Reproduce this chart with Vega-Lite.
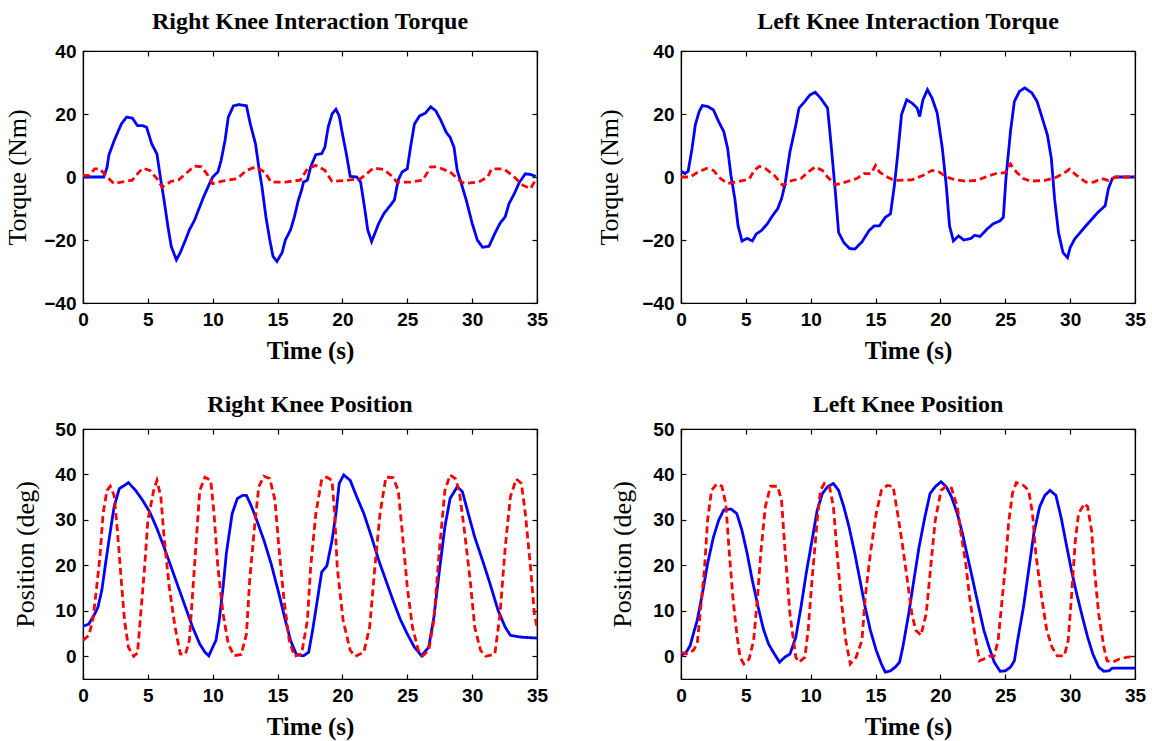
{
  "$schema": "https://vega.github.io/schema/vega-lite/v6.json",
  "autosize": {"type": "none"},
  "padding": {"left": 83, "top": 51, "right": 1069, "bottom": 690},
  "background": "white",
  "bounds": "flush",
  "columns": 2,
  "spacing": {"row": 126, "column": 144},
  "config": {
    "view": {"stroke": "black", "strokeWidth": 1.2},
    "axis": {
      "grid": false, "domainColor": "black", "domainWidth": 1.2, "tickColor": "black", "tickWidth": 1.2,
      "tickSize": -5, "labelPadding": 12, "labelFont": "Liberation Sans", "labelFontWeight": "bold",
      "labelFontSize": 19, "labelColor": "black", "labelFlush": false, "labelOverlap": false,
      "titleFont": "Liberation Serif", "titleFontSize": 26, "titleFontWeight": "normal", "titleColor": "black"
    },
    "title": {"font": "Liberation Serif", "fontSize": 24, "fontWeight": "bold", "color": "black", "anchor": "middle"}
  },
  "datasets": {
    "rkt": [
      {"s":"A","t":0,"v":0},{"s":"A","t":1.6,"v":0},{"s":"A","t":1.85,"v":3},{"s":"A","t":2.0,"v":7},{"s":"A","t":2.4,"v":11.5},{"s":"A","t":2.95,"v":16.8},{"s":"A","t":3.35,"v":19},{"s":"A","t":3.8,"v":18.7},{"s":"A","t":4.2,"v":16.3},{"s":"A","t":4.6,"v":16.3},{"s":"A","t":4.9,"v":15.8},{"s":"A","t":5.3,"v":10.5},{"s":"A","t":5.7,"v":7.3},{"s":"A","t":6.0,"v":-1},{"s":"A","t":6.25,"v":-7.4},{"s":"A","t":6.55,"v":-15.8},{"s":"A","t":6.8,"v":-22},{"s":"A","t":7.2,"v":-26.3},{"s":"A","t":7.5,"v":-24},{"s":"A","t":7.9,"v":-20},{"s":"A","t":8.2,"v":-16.8},{"s":"A","t":8.6,"v":-13.7},{"s":"A","t":8.9,"v":-10.5},{"s":"A","t":9.3,"v":-6.3},{"s":"A","t":9.7,"v":-2.6},{"s":"A","t":10.0,"v":0},{"s":"A","t":10.4,"v":1.6},{"s":"A","t":10.65,"v":5.3},{"s":"A","t":10.95,"v":11.6},{"s":"A","t":11.2,"v":19},{"s":"A","t":11.6,"v":22.6},{"s":"A","t":12.0,"v":23},{"s":"A","t":12.6,"v":22.6},{"s":"A","t":12.9,"v":16.8},{"s":"A","t":13.3,"v":10.5},{"s":"A","t":13.55,"v":3.2},{"s":"A","t":13.8,"v":-3.2},{"s":"A","t":14.1,"v":-12.6},{"s":"A","t":14.4,"v":-20},{"s":"A","t":14.65,"v":-25.2},{"s":"A","t":14.95,"v":-26.8},{"s":"A","t":15.35,"v":-24},{"s":"A","t":15.6,"v":-20},{"s":"A","t":16.0,"v":-16.8},{"s":"A","t":16.3,"v":-12.6},{"s":"A","t":16.6,"v":-7.4},{"s":"A","t":16.85,"v":-4.2},{"s":"A","t":17.0,"v":-1.6},{"s":"A","t":17.3,"v":-1},{"s":"A","t":17.55,"v":3.2},{"s":"A","t":17.95,"v":7.1},{"s":"A","t":18.4,"v":7.4},{"s":"A","t":18.65,"v":9.5},{"s":"A","t":18.9,"v":15.8},{"s":"A","t":19.2,"v":20},{"s":"A","t":19.5,"v":21.5},{"s":"A","t":19.75,"v":19.4},{"s":"A","t":20.0,"v":13.7},{"s":"A","t":20.3,"v":7.4},{"s":"A","t":20.6,"v":0.2},{"s":"A","t":21.1,"v":0},{"s":"A","t":21.4,"v":-1.6},{"s":"A","t":21.7,"v":-9.5},{"s":"A","t":21.95,"v":-16.8},{"s":"A","t":22.25,"v":-20.5},{"s":"A","t":22.5,"v":-17.9},{"s":"A","t":22.8,"v":-14.7},{"s":"A","t":23.2,"v":-11.6},{"s":"A","t":23.6,"v":-9.5},{"s":"A","t":24.0,"v":-7.4},{"s":"A","t":24.3,"v":-1},{"s":"A","t":24.6,"v":1.6},{"s":"A","t":25.0,"v":2.6},{"s":"A","t":25.25,"v":9.5},{"s":"A","t":25.55,"v":16.8},{"s":"A","t":25.95,"v":19.4},{"s":"A","t":26.4,"v":20.3},{"s":"A","t":26.8,"v":22.3},{"s":"A","t":27.2,"v":21},{"s":"A","t":27.6,"v":17.9},{"s":"A","t":28.0,"v":14.2},{"s":"A","t":28.3,"v":12.6},{"s":"A","t":28.6,"v":9.5},{"s":"A","t":28.85,"v":2.1},{"s":"A","t":29.25,"v":-3.2},{"s":"A","t":29.55,"v":-7.4},{"s":"A","t":30.0,"v":-14.7},{"s":"A","t":30.4,"v":-20},{"s":"A","t":30.8,"v":-22.3},{"s":"A","t":31.3,"v":-22},{"s":"A","t":31.75,"v":-17.9},{"s":"A","t":32.15,"v":-14.7},{"s":"A","t":32.55,"v":-12.6},{"s":"A","t":32.85,"v":-8.4},{"s":"A","t":33.25,"v":-5.3},{"s":"A","t":33.65,"v":-1.6},{"s":"A","t":34.1,"v":1},{"s":"A","t":34.5,"v":0.8},{"s":"A","t":34.9,"v":0.2},
      {"s":"B","t":0,"v":0.5},{"s":"B","t":0.5,"v":0.5},{"s":"B","t":0.9,"v":2.6},{"s":"B","t":1.3,"v":2.6},{"s":"B","t":1.85,"v":0},{"s":"B","t":2.4,"v":-2.1},{"s":"B","t":2.95,"v":-1.6},{"s":"B","t":3.8,"v":-1},{"s":"B","t":4.2,"v":1},{"s":"B","t":4.6,"v":2.8},{"s":"B","t":5.15,"v":2.1},{"s":"B","t":5.7,"v":-0.5},{"s":"B","t":6.1,"v":-3.2},{"s":"B","t":6.8,"v":-1.4},{"s":"B","t":7.35,"v":-1},{"s":"B","t":7.9,"v":1},{"s":"B","t":8.6,"v":3.5},{"s":"B","t":9.15,"v":3.2},{"s":"B","t":9.55,"v":1},{"s":"B","t":10.0,"v":-2.1},{"s":"B","t":10.65,"v":-1.4},{"s":"B","t":11.9,"v":-0.5},{"s":"B","t":12.6,"v":2.1},{"s":"B","t":13.3,"v":3.2},{"s":"B","t":14.0,"v":1.6},{"s":"B","t":14.5,"v":-1.6},{"s":"B","t":15.6,"v":-1.6},{"s":"B","t":16.75,"v":-1},{"s":"B","t":17.3,"v":2.6},{"s":"B","t":17.95,"v":3.7},{"s":"B","t":18.65,"v":2.1},{"s":"B","t":19.2,"v":-1.4},{"s":"B","t":20.45,"v":-1},{"s":"B","t":21.4,"v":-0.5},{"s":"B","t":21.95,"v":1.3},{"s":"B","t":22.4,"v":2.9},{"s":"B","t":23.2,"v":2.4},{"s":"B","t":23.75,"v":0.5},{"s":"B","t":24.2,"v":-1.6},{"s":"B","t":25.25,"v":-1.6},{"s":"B","t":26.2,"v":-1},{"s":"B","t":26.8,"v":3.2},{"s":"B","t":27.3,"v":3.2},{"s":"B","t":28.3,"v":1.6},{"s":"B","t":29.0,"v":-1},{"s":"B","t":29.4,"v":-2.1},{"s":"B","t":30.5,"v":-1.6},{"s":"B","t":31.2,"v":0},{"s":"B","t":31.5,"v":2.6},{"s":"B","t":32.45,"v":2.6},{"s":"B","t":33.25,"v":0},{"s":"B","t":33.9,"v":-2.6},{"s":"B","t":34.5,"v":-3.7},{"s":"B","t":34.9,"v":-0.8}
    ],
    "lkt": [
      {"s":"A","t":0,"v":1.8},{"s":"A","t":0.3,"v":1.1},{"s":"A","t":0.55,"v":1.8},{"s":"A","t":0.85,"v":9},{"s":"A","t":1.1,"v":16.5},{"s":"A","t":1.4,"v":20.8},{"s":"A","t":1.65,"v":22.7},{"s":"A","t":2.05,"v":22.4},{"s":"A","t":2.5,"v":21.3},{"s":"A","t":2.9,"v":17.6},{"s":"A","t":3.3,"v":14.4},{"s":"A","t":3.6,"v":9},{"s":"A","t":3.85,"v":0.5},{"s":"A","t":4.15,"v":-6.9},{"s":"A","t":4.4,"v":-15.5},{"s":"A","t":4.7,"v":-20.3},{"s":"A","t":5.1,"v":-19.5},{"s":"A","t":5.5,"v":-20.3},{"s":"A","t":5.8,"v":-18.1},{"s":"A","t":6.2,"v":-17},{"s":"A","t":6.65,"v":-14.9},{"s":"A","t":7.05,"v":-12.3},{"s":"A","t":7.45,"v":-10.1},{"s":"A","t":7.75,"v":-6.9},{"s":"A","t":8.0,"v":-2.7},{"s":"A","t":8.4,"v":8},{"s":"A","t":8.85,"v":16.5},{"s":"A","t":9.1,"v":21.9},{"s":"A","t":9.55,"v":24},{"s":"A","t":9.95,"v":26.1},{"s":"A","t":10.35,"v":26.9},{"s":"A","t":10.75,"v":25.1},{"s":"A","t":11.3,"v":21.9},{"s":"A","t":11.6,"v":9},{"s":"A","t":11.9,"v":-4.8},{"s":"A","t":12.15,"v":-17.6},{"s":"A","t":12.55,"v":-20.8},{"s":"A","t":13.0,"v":-22.7},{"s":"A","t":13.4,"v":-22.9},{"s":"A","t":13.95,"v":-20.6},{"s":"A","t":14.5,"v":-17},{"s":"A","t":14.9,"v":-15.5},{"s":"A","t":15.3,"v":-15.5},{"s":"A","t":15.75,"v":-12.8},{"s":"A","t":16.15,"v":-11.7},{"s":"A","t":16.45,"v":-2.7},{"s":"A","t":16.7,"v":6.9},{"s":"A","t":17.0,"v":19.8},{"s":"A","t":17.4,"v":24.5},{"s":"A","t":17.8,"v":23.5},{"s":"A","t":18.2,"v":21.9},{"s":"A","t":18.4,"v":19.2},{"s":"A","t":18.65,"v":24.5},{"s":"A","t":19.0,"v":27.7},{"s":"A","t":19.35,"v":25.1},{"s":"A","t":19.75,"v":20.3},{"s":"A","t":20.15,"v":9},{"s":"A","t":20.45,"v":-2.7},{"s":"A","t":20.7,"v":-15.5},{"s":"A","t":21.0,"v":-20.3},{"s":"A","t":21.4,"v":-18.7},{"s":"A","t":21.8,"v":-20},{"s":"A","t":22.35,"v":-19.5},{"s":"A","t":22.65,"v":-18.5},{"s":"A","t":23.05,"v":-18.9},{"s":"A","t":23.6,"v":-16.5},{"s":"A","t":24.05,"v":-14.9},{"s":"A","t":24.6,"v":-13.9},{"s":"A","t":24.85,"v":-12.8},{"s":"A","t":25.05,"v":-0.5},{"s":"A","t":25.4,"v":14.4},{"s":"A","t":25.7,"v":24},{"s":"A","t":26.1,"v":27.2},{"s":"A","t":26.5,"v":28.3},{"s":"A","t":27.05,"v":26.7},{"s":"A","t":27.45,"v":24},{"s":"A","t":27.85,"v":18.7},{"s":"A","t":28.25,"v":13.3},{"s":"A","t":28.55,"v":5.9},{"s":"A","t":28.8,"v":-6.9},{"s":"A","t":29.1,"v":-17.6},{"s":"A","t":29.45,"v":-24},{"s":"A","t":29.8,"v":-25.6},{"s":"A","t":30.0,"v":-22.4},{"s":"A","t":30.35,"v":-19.7},{"s":"A","t":30.9,"v":-17},{"s":"A","t":31.45,"v":-14.4},{"s":"A","t":32.15,"v":-11.2},{"s":"A","t":32.7,"v":-9.1},{"s":"A","t":32.95,"v":-3.7},{"s":"A","t":33.25,"v":-0.5},{"s":"A","t":33.5,"v":0},{"s":"A","t":35,"v":0},
      {"s":"B","t":0,"v":0},{"s":"B","t":0.7,"v":0},{"s":"B","t":1.25,"v":1.4},{"s":"B","t":1.95,"v":2.7},{"s":"B","t":2.5,"v":2.1},{"s":"B","t":3.05,"v":-0.5},{"s":"B","t":3.6,"v":-2.1},{"s":"B","t":4.55,"v":-1.3},{"s":"B","t":5.25,"v":-0.7},{"s":"B","t":5.65,"v":2.1},{"s":"B","t":6.05,"v":3.4},{"s":"B","t":6.5,"v":2.7},{"s":"B","t":7.2,"v":0.5},{"s":"B","t":7.85,"v":-2.7},{"s":"B","t":8.55,"v":-1.1},{"s":"B","t":9.25,"v":-0.5},{"s":"B","t":9.8,"v":1.6},{"s":"B","t":10.35,"v":3.2},{"s":"B","t":10.9,"v":2.1},{"s":"B","t":11.3,"v":0},{"s":"B","t":11.9,"v":-2.5},{"s":"B","t":12.85,"v":-1.4},{"s":"B","t":13.55,"v":-0.5},{"s":"B","t":14.1,"v":1.1},{"s":"B","t":14.65,"v":1.1},{"s":"B","t":15.0,"v":3.7},{"s":"B","t":15.3,"v":1.6},{"s":"B","t":15.9,"v":0},{"s":"B","t":16.45,"v":-1.1},{"s":"B","t":17.8,"v":-0.9},{"s":"B","t":18.65,"v":0.5},{"s":"B","t":19.35,"v":2.1},{"s":"B","t":19.9,"v":1.6},{"s":"B","t":20.45,"v":0},{"s":"B","t":21.15,"v":-0.9},{"s":"B","t":21.95,"v":-1.3},{"s":"B","t":22.8,"v":-1.1},{"s":"B","t":23.6,"v":0.2},{"s":"B","t":24.3,"v":1.1},{"s":"B","t":25.0,"v":1.4},{"s":"B","t":25.4,"v":4.1},{"s":"B","t":25.85,"v":1.6},{"s":"B","t":26.4,"v":-0.5},{"s":"B","t":26.95,"v":-1.3},{"s":"B","t":28.05,"v":-1.1},{"s":"B","t":28.8,"v":-0.3},{"s":"B","t":29.5,"v":1.1},{"s":"B","t":29.95,"v":2.5},{"s":"B","t":30.5,"v":0.5},{"s":"B","t":31.2,"v":-1.6},{"s":"B","t":31.85,"v":-1.6},{"s":"B","t":32.4,"v":-0.5},{"s":"B","t":32.95,"v":-1.1},{"s":"B","t":33.5,"v":0},{"s":"B","t":35,"v":0}
    ],
    "rkp": [
      {"s":"A","t":0,"v":6.6},{"s":"A","t":0.45,"v":7.1},{"s":"A","t":0.9,"v":9.3},{"s":"A","t":1.15,"v":10.8},{"s":"A","t":1.45,"v":14.5},{"s":"A","t":1.7,"v":19.6},{"s":"A","t":2.0,"v":25.5},{"s":"A","t":2.4,"v":32.9},{"s":"A","t":2.8,"v":36.9},{"s":"A","t":3.2,"v":37.6},{"s":"A","t":3.5,"v":38.2},{"s":"A","t":4.05,"v":36.5},{"s":"A","t":4.6,"v":34.3},{"s":"A","t":5.15,"v":31.7},{"s":"A","t":5.7,"v":28.1},{"s":"A","t":6.25,"v":24},{"s":"A","t":6.8,"v":19.6},{"s":"A","t":7.35,"v":15.2},{"s":"A","t":7.9,"v":10.8},{"s":"A","t":8.45,"v":6.4},{"s":"A","t":9.0,"v":2.7},{"s":"A","t":9.4,"v":0.9},{"s":"A","t":9.7,"v":0.1},{"s":"A","t":10.0,"v":2},{"s":"A","t":10.25,"v":3.5},{"s":"A","t":10.5,"v":7.9},{"s":"A","t":10.8,"v":15.2},{"s":"A","t":11.05,"v":22.6},{"s":"A","t":11.5,"v":31.4},{"s":"A","t":11.9,"v":34.7},{"s":"A","t":12.3,"v":35.4},{"s":"A","t":12.6,"v":35.4},{"s":"A","t":13.0,"v":32.9},{"s":"A","t":13.4,"v":29.9},{"s":"A","t":13.95,"v":25.5},{"s":"A","t":14.5,"v":20.4},{"s":"A","t":15.1,"v":13.8},{"s":"A","t":15.6,"v":7.9},{"s":"A","t":16.0,"v":3.5},{"s":"A","t":16.45,"v":0.4},{"s":"A","t":17.0,"v":0.1},{"s":"A","t":17.4,"v":0.9},{"s":"A","t":17.7,"v":5.7},{"s":"A","t":18.1,"v":13},{"s":"A","t":18.4,"v":18.5},{"s":"A","t":18.8,"v":19.9},{"s":"A","t":19.2,"v":25.5},{"s":"A","t":19.5,"v":31.4},{"s":"A","t":19.75,"v":38},{"s":"A","t":20.1,"v":39.9},{"s":"A","t":20.6,"v":38.7},{"s":"A","t":21.1,"v":35.1},{"s":"A","t":21.65,"v":31.4},{"s":"A","t":22.25,"v":26.2},{"s":"A","t":22.8,"v":21.1},{"s":"A","t":23.35,"v":16.7},{"s":"A","t":23.9,"v":12.3},{"s":"A","t":24.45,"v":8.2},{"s":"A","t":25.0,"v":4.9},{"s":"A","t":25.55,"v":2},{"s":"A","t":26.1,"v":0.1},{"s":"A","t":26.65,"v":2},{"s":"A","t":27.05,"v":8.6},{"s":"A","t":27.45,"v":18.2},{"s":"A","t":27.9,"v":28.5},{"s":"A","t":28.3,"v":34.7},{"s":"A","t":28.85,"v":37.3},{"s":"A","t":29.25,"v":36.2},{"s":"A","t":29.7,"v":31.4},{"s":"A","t":30.2,"v":26.2},{"s":"A","t":30.8,"v":21.1},{"s":"A","t":31.3,"v":16.7},{"s":"A","t":32.0,"v":10.1},{"s":"A","t":32.55,"v":6.4},{"s":"A","t":32.95,"v":4.6},{"s":"A","t":33.8,"v":4.2},{"s":"A","t":35,"v":4},
      {"s":"B","t":0,"v":3.5},{"s":"B","t":0.45,"v":4.6},{"s":"B","t":0.75,"v":7.9},{"s":"B","t":1.0,"v":13.8},{"s":"B","t":1.3,"v":21.8},{"s":"B","t":1.55,"v":31.4},{"s":"B","t":1.85,"v":36.5},{"s":"B","t":2.1,"v":37.4},{"s":"B","t":2.4,"v":35.4},{"s":"B","t":2.65,"v":27.7},{"s":"B","t":2.95,"v":16.7},{"s":"B","t":3.2,"v":7.9},{"s":"B","t":3.5,"v":2},{"s":"B","t":3.9,"v":0},{"s":"B","t":4.2,"v":0.7},{"s":"B","t":4.45,"v":9.3},{"s":"B","t":4.75,"v":19.6},{"s":"B","t":5.0,"v":29.9},{"s":"B","t":5.45,"v":36.5},{"s":"B","t":5.7,"v":38.7},{"s":"B","t":6.0,"v":35.1},{"s":"B","t":6.25,"v":26.2},{"s":"B","t":6.65,"v":15.2},{"s":"B","t":7.1,"v":6.4},{"s":"B","t":7.5,"v":0.5},{"s":"B","t":7.9,"v":0.4},{"s":"B","t":8.2,"v":3.5},{"s":"B","t":8.45,"v":13.8},{"s":"B","t":8.75,"v":26.2},{"s":"B","t":9.0,"v":36.5},{"s":"B","t":9.4,"v":39.4},{"s":"B","t":9.85,"v":38.7},{"s":"B","t":10.1,"v":31.4},{"s":"B","t":10.4,"v":19.6},{"s":"B","t":10.8,"v":9.3},{"s":"B","t":11.2,"v":2.7},{"s":"B","t":11.65,"v":0.1},{"s":"B","t":12.2,"v":0.4},{"s":"B","t":12.6,"v":4.9},{"s":"B","t":12.85,"v":16.7},{"s":"B","t":13.2,"v":27.7},{"s":"B","t":13.55,"v":37.3},{"s":"B","t":13.95,"v":39.6},{"s":"B","t":14.4,"v":39.1},{"s":"B","t":14.8,"v":34.3},{"s":"B","t":15.1,"v":24},{"s":"B","t":15.5,"v":12.3},{"s":"B","t":15.9,"v":3.5},{"s":"B","t":16.3,"v":0},{"s":"B","t":16.85,"v":0.5},{"s":"B","t":17.3,"v":7.9},{"s":"B","t":17.55,"v":19.6},{"s":"B","t":17.95,"v":31.4},{"s":"B","t":18.4,"v":38.9},{"s":"B","t":18.8,"v":39.4},{"s":"B","t":19.2,"v":38.7},{"s":"B","t":19.4,"v":31.4},{"s":"B","t":19.6,"v":19.6},{"s":"B","t":20.05,"v":7.9},{"s":"B","t":20.6,"v":1.3},{"s":"B","t":21.0,"v":0},{"s":"B","t":21.65,"v":0.9},{"s":"B","t":22.1,"v":6.4},{"s":"B","t":22.5,"v":19.6},{"s":"B","t":22.9,"v":31.4},{"s":"B","t":23.35,"v":39.4},{"s":"B","t":23.9,"v":39.3},{"s":"B","t":24.3,"v":36.5},{"s":"B","t":24.6,"v":27.7},{"s":"B","t":25.0,"v":15.2},{"s":"B","t":25.4,"v":6.4},{"s":"B","t":25.85,"v":1.3},{"s":"B","t":26.2,"v":0.1},{"s":"B","t":26.65,"v":1.3},{"s":"B","t":27.05,"v":7.9},{"s":"B","t":27.45,"v":22.6},{"s":"B","t":27.9,"v":36.5},{"s":"B","t":28.3,"v":39.9},{"s":"B","t":28.7,"v":39.1},{"s":"B","t":29.0,"v":36.5},{"s":"B","t":29.4,"v":27.7},{"s":"B","t":29.85,"v":16.7},{"s":"B","t":30.2,"v":6.4},{"s":"B","t":30.65,"v":1.3},{"s":"B","t":31.05,"v":0},{"s":"B","t":31.75,"v":0.5},{"s":"B","t":32.15,"v":9.3},{"s":"B","t":32.55,"v":24},{"s":"B","t":32.95,"v":35.1},{"s":"B","t":33.4,"v":39},{"s":"B","t":33.8,"v":38},{"s":"B","t":34.1,"v":31.4},{"s":"B","t":34.5,"v":19.6},{"s":"B","t":34.8,"v":9.3},{"s":"B","t":35,"v":6.4}
    ],
    "lkp": [
      {"s":"A","t":0,"v":0.1},{"s":"A","t":0.4,"v":0.9},{"s":"A","t":0.7,"v":2.3},{"s":"A","t":0.95,"v":4.9},{"s":"A","t":1.25,"v":7.9},{"s":"A","t":1.65,"v":13.8},{"s":"A","t":2.05,"v":20.4},{"s":"A","t":2.5,"v":26.2},{"s":"A","t":2.9,"v":29.9},{"s":"A","t":3.3,"v":32.2},{"s":"A","t":3.85,"v":32.4},{"s":"A","t":4.3,"v":31.4},{"s":"A","t":4.7,"v":27.7},{"s":"A","t":5.1,"v":22.6},{"s":"A","t":5.5,"v":16.7},{"s":"A","t":5.95,"v":10.8},{"s":"A","t":6.35,"v":6},{"s":"A","t":6.75,"v":2.7},{"s":"A","t":7.2,"v":0.5},{"s":"A","t":7.6,"v":-1.3},{"s":"A","t":8.0,"v":-0.2},{"s":"A","t":8.4,"v":0.5},{"s":"A","t":8.85,"v":4.2},{"s":"A","t":9.25,"v":10.8},{"s":"A","t":9.65,"v":18.2},{"s":"A","t":10.1,"v":25.5},{"s":"A","t":10.5,"v":32.1},{"s":"A","t":10.9,"v":35.8},{"s":"A","t":11.3,"v":37.3},{"s":"A","t":11.75,"v":38},{"s":"A","t":12.15,"v":36.5},{"s":"A","t":12.55,"v":32.9},{"s":"A","t":12.95,"v":28.5},{"s":"A","t":13.4,"v":22.6},{"s":"A","t":13.8,"v":16.7},{"s":"A","t":14.2,"v":10.8},{"s":"A","t":14.6,"v":5.7},{"s":"A","t":15.05,"v":1.3},{"s":"A","t":15.45,"v":-1.7},{"s":"A","t":15.75,"v":-3.5},{"s":"A","t":16.15,"v":-3.2},{"s":"A","t":16.55,"v":-2.3},{"s":"A","t":16.85,"v":-1.3},{"s":"A","t":17.1,"v":2},{"s":"A","t":17.55,"v":9.3},{"s":"A","t":17.95,"v":16.7},{"s":"A","t":18.35,"v":24},{"s":"A","t":18.8,"v":30.6},{"s":"A","t":19.2,"v":35.8},{"s":"A","t":19.6,"v":37.3},{"s":"A","t":20.05,"v":38.4},{"s":"A","t":20.45,"v":37.3},{"s":"A","t":20.85,"v":35.1},{"s":"A","t":21.3,"v":31.4},{"s":"A","t":21.7,"v":27},{"s":"A","t":22.1,"v":21.8},{"s":"A","t":22.5,"v":16.7},{"s":"A","t":22.95,"v":10.8},{"s":"A","t":23.35,"v":5.7},{"s":"A","t":23.75,"v":2},{"s":"A","t":24.15,"v":-1.3},{"s":"A","t":24.6,"v":-3.3},{"s":"A","t":25.0,"v":-3.2},{"s":"A","t":25.4,"v":-2.4},{"s":"A","t":25.7,"v":-1},{"s":"A","t":25.95,"v":3.5},{"s":"A","t":26.4,"v":10.8},{"s":"A","t":26.8,"v":18.9},{"s":"A","t":27.2,"v":27},{"s":"A","t":27.65,"v":32.9},{"s":"A","t":28.05,"v":35.4},{"s":"A","t":28.45,"v":36.5},{"s":"A","t":28.9,"v":35.4},{"s":"A","t":29.3,"v":30.6},{"s":"A","t":29.7,"v":24.7},{"s":"A","t":30.1,"v":18.9},{"s":"A","t":30.5,"v":13.8},{"s":"A","t":30.95,"v":8.6},{"s":"A","t":31.35,"v":4.2},{"s":"A","t":31.75,"v":0.5},{"s":"A","t":32.2,"v":-2.4},{"s":"A","t":32.6,"v":-3.3},{"s":"A","t":33.0,"v":-3.2},{"s":"A","t":33.25,"v":-2.6},{"s":"A","t":35,"v":-2.6},
      {"s":"B","t":0,"v":0.9},{"s":"B","t":0.4,"v":0.5},{"s":"B","t":0.95,"v":1.3},{"s":"B","t":1.25,"v":2.7},{"s":"B","t":1.5,"v":10.1},{"s":"B","t":1.8,"v":18.9},{"s":"B","t":2.05,"v":29.9},{"s":"B","t":2.35,"v":36.5},{"s":"B","t":2.75,"v":37.9},{"s":"B","t":3.15,"v":37.4},{"s":"B","t":3.45,"v":33.6},{"s":"B","t":3.75,"v":21.8},{"s":"B","t":4.0,"v":13},{"s":"B","t":4.3,"v":4.9},{"s":"B","t":4.55,"v":-0.2},{"s":"B","t":4.85,"v":-1.7},{"s":"B","t":5.25,"v":-0.6},{"s":"B","t":5.6,"v":3.5},{"s":"B","t":5.9,"v":13},{"s":"B","t":6.15,"v":22.6},{"s":"B","t":6.5,"v":32.9},{"s":"B","t":6.9,"v":37.4},{"s":"B","t":7.45,"v":37.4},{"s":"B","t":7.75,"v":34.3},{"s":"B","t":8.0,"v":24},{"s":"B","t":8.4,"v":9.3},{"s":"B","t":8.85,"v":-0.2},{"s":"B","t":9.1,"v":-1.3},{"s":"B","t":9.55,"v":-0.2},{"s":"B","t":9.8,"v":5.7},{"s":"B","t":10.1,"v":16.7},{"s":"B","t":10.5,"v":29.9},{"s":"B","t":10.75,"v":36.5},{"s":"B","t":11.05,"v":38},{"s":"B","t":11.45,"v":37.3},{"s":"B","t":11.75,"v":32.9},{"s":"B","t":12.0,"v":24},{"s":"B","t":12.3,"v":13.8},{"s":"B","t":12.7,"v":3.5},{"s":"B","t":13.05,"v":-1.7},{"s":"B","t":13.5,"v":-0.2},{"s":"B","t":13.95,"v":3.5},{"s":"B","t":14.2,"v":13},{"s":"B","t":14.6,"v":22.6},{"s":"B","t":15.05,"v":31.4},{"s":"B","t":15.45,"v":36.5},{"s":"B","t":15.9,"v":37.6},{"s":"B","t":16.35,"v":37.4},{"s":"B","t":16.7,"v":31.4},{"s":"B","t":17.1,"v":24},{"s":"B","t":17.45,"v":16.7},{"s":"B","t":17.8,"v":9.3},{"s":"B","t":18.1,"v":5.7},{"s":"B","t":18.5,"v":4.6},{"s":"B","t":18.9,"v":9.3},{"s":"B","t":19.35,"v":22.6},{"s":"B","t":19.6,"v":29.9},{"s":"B","t":20.05,"v":36.5},{"s":"B","t":20.45,"v":37.4},{"s":"B","t":20.85,"v":37},{"s":"B","t":21.3,"v":32.9},{"s":"B","t":21.55,"v":27.7},{"s":"B","t":21.95,"v":20.4},{"s":"B","t":22.25,"v":13},{"s":"B","t":22.65,"v":4.9},{"s":"B","t":23.0,"v":-1},{"s":"B","t":23.35,"v":-0.6},{"s":"B","t":23.75,"v":0},{"s":"B","t":24.15,"v":0.1},{"s":"B","t":24.45,"v":3.5},{"s":"B","t":24.7,"v":10.8},{"s":"B","t":25.0,"v":19.6},{"s":"B","t":25.25,"v":29.2},{"s":"B","t":25.55,"v":35.8},{"s":"B","t":25.85,"v":38.2},{"s":"B","t":26.4,"v":37.6},{"s":"B","t":26.8,"v":36.5},{"s":"B","t":27.1,"v":31.4},{"s":"B","t":27.35,"v":22.6},{"s":"B","t":27.8,"v":13},{"s":"B","t":28.2,"v":5.7},{"s":"B","t":28.6,"v":2},{"s":"B","t":29.0,"v":0.1},{"s":"B","t":29.55,"v":0.1},{"s":"B","t":29.85,"v":3.5},{"s":"B","t":30.1,"v":13},{"s":"B","t":30.4,"v":25.5},{"s":"B","t":30.65,"v":31.4},{"s":"B","t":31.1,"v":33.6},{"s":"B","t":31.35,"v":32.9},{"s":"B","t":31.65,"v":27.7},{"s":"B","t":31.9,"v":18.2},{"s":"B","t":32.2,"v":9.3},{"s":"B","t":32.6,"v":2},{"s":"B","t":32.85,"v":-1},{"s":"B","t":33.25,"v":-1.3},{"s":"B","t":33.8,"v":-0.6},{"s":"B","t":34.4,"v":-0.2},{"s":"B","t":35,"v":0}
    ]
  },
  "concat": [
    {
      "title": {"text": "Right Knee Interaction Torque", "offset": 8},
      "width": 454, "height": 252,
      "data": {"name": "rkt"},
      "layer": [
        {"mark": {"type": "line", "strokeWidth": 2.8, "clip": true},
         "encoding": {
           "x": {"field": "t", "type": "quantitative", "scale": {"domain": [0, 35], "nice": false, "zero": false}, "axis": {"orient": "bottom", "values": [0,5,10,15,20,25,30,35], "title": "Time (s)", "titleFontWeight": "bold", "titleFontSize": 25, "titlePadding": 9}},
           "y": {"field": "v", "type": "quantitative", "scale": {"domain": [-40, 40], "nice": false, "zero": false}, "axis": {"orient": "left", "values": [-40,-20,0,20,40], "title": "Torque (Nm)", "titlePadding": 13}},
           "color": {"field": "s", "type": "nominal", "scale": {"domain": ["A", "B"], "range": ["#0000ff", "#ff0000"]}, "legend": null},
           "strokeDash": {"field": "s", "type": "nominal", "scale": {"domain": ["A", "B"], "range": [[1, 0], [7, 4]]}, "legend": null}
         }},
        {"mark": {"type": "line", "opacity": 0},
         "encoding": {
           "x": {"field": "t", "type": "quantitative", "scale": {"domain": [0, 35], "nice": false, "zero": false}, "axis": {"orient": "top", "values": [0,5,10,15,20,25,30,35], "labels": false, "title": null}},
           "y": {"field": "v", "type": "quantitative", "scale": {"domain": [-40, 40], "nice": false, "zero": false}, "axis": {"orient": "right", "values": [-40,-20,0,20,40], "labels": false, "title": null}},
           "detail": {"field": "s", "type": "nominal"}
         }}
      ],
      "resolve": {"axis": {"x": "independent", "y": "independent"}}
    },
    {
      "title": {"text": "Left Knee Interaction Torque", "offset": 8},
      "width": 454, "height": 252,
      "data": {"name": "lkt"},
      "layer": [
        {"mark": {"type": "line", "strokeWidth": 2.8, "clip": true},
         "encoding": {
           "x": {"field": "t", "type": "quantitative", "scale": {"domain": [0, 35], "nice": false, "zero": false}, "axis": {"orient": "bottom", "values": [0,5,10,15,20,25,30,35], "title": "Time (s)", "titleFontWeight": "bold", "titleFontSize": 25, "titlePadding": 9}},
           "y": {"field": "v", "type": "quantitative", "scale": {"domain": [-40, 40], "nice": false, "zero": false}, "axis": {"orient": "left", "values": [-40,-20,0,20,40], "title": "Torque (Nm)", "titlePadding": 19}},
           "color": {"field": "s", "type": "nominal", "scale": {"domain": ["A", "B"], "range": ["#0000ff", "#ff0000"]}, "legend": null},
           "strokeDash": {"field": "s", "type": "nominal", "scale": {"domain": ["A", "B"], "range": [[1, 0], [7, 4]]}, "legend": null}
         }},
        {"mark": {"type": "line", "opacity": 0},
         "encoding": {
           "x": {"field": "t", "type": "quantitative", "scale": {"domain": [0, 35], "nice": false, "zero": false}, "axis": {"orient": "top", "values": [0,5,10,15,20,25,30,35], "labels": false, "title": null}},
           "y": {"field": "v", "type": "quantitative", "scale": {"domain": [-40, 40], "nice": false, "zero": false}, "axis": {"orient": "right", "values": [-40,-20,0,20,40], "labels": false, "title": null}},
           "detail": {"field": "s", "type": "nominal"}
         }}
      ],
      "resolve": {"axis": {"x": "independent", "y": "independent"}}
    },
    {
      "title": {"text": "Right Knee Position", "offset": 3},
      "width": 454, "height": 250,
      "data": {"name": "rkp"},
      "layer": [
        {"mark": {"type": "line", "strokeWidth": 2.8, "clip": true},
         "encoding": {
           "x": {"field": "t", "type": "quantitative", "scale": {"domain": [0, 35], "nice": false, "zero": false}, "axis": {"orient": "bottom", "values": [0,5,10,15,20,25,30,35], "title": "Time (s)", "titleFontWeight": "bold", "titleFontSize": 25, "titlePadding": 9}},
           "y": {"field": "v", "type": "quantitative", "scale": {"domain": [-5, 50], "nice": false, "zero": false}, "axis": {"orient": "left", "values": [0,10,20,30,40,50], "title": "Position (deg)", "titlePadding": 16}},
           "color": {"field": "s", "type": "nominal", "scale": {"domain": ["A", "B"], "range": ["#0000ff", "#ff0000"]}, "legend": null},
           "strokeDash": {"field": "s", "type": "nominal", "scale": {"domain": ["A", "B"], "range": [[1, 0], [7, 4]]}, "legend": null}
         }},
        {"mark": {"type": "line", "opacity": 0},
         "encoding": {
           "x": {"field": "t", "type": "quantitative", "scale": {"domain": [0, 35], "nice": false, "zero": false}, "axis": {"orient": "top", "values": [0,5,10,15,20,25,30,35], "labels": false, "title": null}},
           "y": {"field": "v", "type": "quantitative", "scale": {"domain": [-5, 50], "nice": false, "zero": false}, "axis": {"orient": "right", "values": [0,10,20,30,40,50], "labels": false, "title": null}},
           "detail": {"field": "s", "type": "nominal"}
         }}
      ],
      "resolve": {"axis": {"x": "independent", "y": "independent"}}
    },
    {
      "title": {"text": "Left Knee Position", "offset": 3},
      "width": 454, "height": 250,
      "data": {"name": "lkp"},
      "layer": [
        {"mark": {"type": "line", "strokeWidth": 2.8, "clip": true},
         "encoding": {
           "x": {"field": "t", "type": "quantitative", "scale": {"domain": [0, 35], "nice": false, "zero": false}, "axis": {"orient": "bottom", "values": [0,5,10,15,20,25,30,35], "title": "Time (s)", "titleFontWeight": "bold", "titleFontSize": 25, "titlePadding": 9}},
           "y": {"field": "v", "type": "quantitative", "scale": {"domain": [-5, 50], "nice": false, "zero": false}, "axis": {"orient": "left", "values": [0,10,20,30,40,50], "title": "Position (deg)", "titlePadding": 17}},
           "color": {"field": "s", "type": "nominal", "scale": {"domain": ["A", "B"], "range": ["#0000ff", "#ff0000"]}, "legend": null},
           "strokeDash": {"field": "s", "type": "nominal", "scale": {"domain": ["A", "B"], "range": [[1, 0], [7, 4]]}, "legend": null}
         }},
        {"mark": {"type": "line", "opacity": 0},
         "encoding": {
           "x": {"field": "t", "type": "quantitative", "scale": {"domain": [0, 35], "nice": false, "zero": false}, "axis": {"orient": "top", "values": [0,5,10,15,20,25,30,35], "labels": false, "title": null}},
           "y": {"field": "v", "type": "quantitative", "scale": {"domain": [-5, 50], "nice": false, "zero": false}, "axis": {"orient": "right", "values": [0,10,20,30,40,50], "labels": false, "title": null}},
           "detail": {"field": "s", "type": "nominal"}
         }}
      ],
      "resolve": {"axis": {"x": "independent", "y": "independent"}}
    }
  ]
}
